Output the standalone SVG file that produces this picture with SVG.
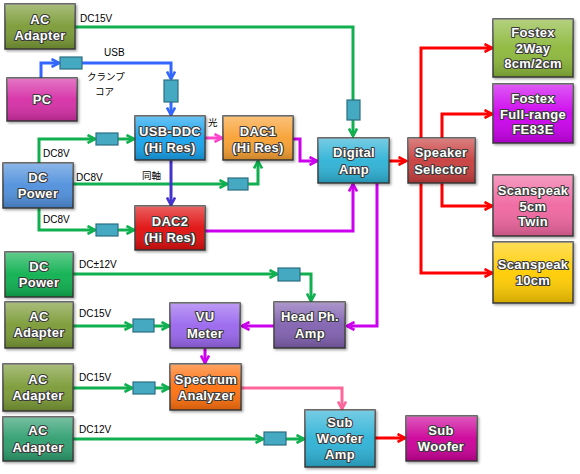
<svg xmlns="http://www.w3.org/2000/svg" width="580" height="474" viewBox="0 0 580 474">
<defs>
<linearGradient id="gloss" x1="0" y1="0" x2="0" y2="1">
<stop offset="0" stop-color="#ffffff" stop-opacity="0.35"/>
<stop offset="0.5" stop-color="#ffffff" stop-opacity="0.05"/>
<stop offset="1" stop-color="#000000" stop-opacity="0.18"/>
</linearGradient>
<filter id="sh" x="-10%" y="-10%" width="130%" height="130%">
<feDropShadow dx="1.5" dy="1.5" stdDeviation="1" flood-color="#000" flood-opacity="0.35"/>
</filter>
<marker id="aG" viewBox="0 0 10 10" refX="8.5" refY="5" markerWidth="10" markerHeight="10" markerUnits="userSpaceOnUse" orient="auto"><path d="M1,1 L8.5,5 L1,9" fill="none" stroke="#10b050" stroke-width="2.6"/></marker>
<marker id="aB" viewBox="0 0 10 10" refX="8.5" refY="5" markerWidth="10" markerHeight="10" markerUnits="userSpaceOnUse" orient="auto"><path d="M1,1 L8.5,5 L1,9" fill="none" stroke="#3366ff" stroke-width="2.6"/></marker>
<marker id="aI" viewBox="0 0 10 10" refX="8.5" refY="5" markerWidth="10" markerHeight="10" markerUnits="userSpaceOnUse" orient="auto"><path d="M1,1 L8.5,5 L1,9" fill="none" stroke="#4433cc" stroke-width="2.6"/></marker>
<marker id="aM" viewBox="0 0 10 10" refX="8.5" refY="5" markerWidth="10" markerHeight="10" markerUnits="userSpaceOnUse" orient="auto"><path d="M1,1 L8.5,5 L1,9" fill="none" stroke="#cc00ee" stroke-width="2.6"/></marker>
<marker id="aP" viewBox="0 0 10 10" refX="8.5" refY="5" markerWidth="10" markerHeight="10" markerUnits="userSpaceOnUse" orient="auto"><path d="M1,1 L8.5,5 L1,9" fill="none" stroke="#ff44cc" stroke-width="2.6"/></marker>
<marker id="aK" viewBox="0 0 10 10" refX="8.5" refY="5" markerWidth="10" markerHeight="10" markerUnits="userSpaceOnUse" orient="auto"><path d="M1,1 L8.5,5 L1,9" fill="none" stroke="#ff6699" stroke-width="2.6"/></marker>
<marker id="aR" viewBox="0 0 10 10" refX="8.5" refY="5" markerWidth="10" markerHeight="10" markerUnits="userSpaceOnUse" orient="auto"><path d="M1,1 L8.5,5 L1,9" fill="none" stroke="#ff0000" stroke-width="2.6"/></marker>
</defs>
<style>
.box{stroke:#3c3c3c;stroke-width:1.5;filter:url(#sh)}
.gl{fill:url(#gloss);stroke:none}
.t{font-family:"Liberation Sans",Arial,sans-serif;font-size:13px;font-weight:bold;fill:#ffffff;stroke:#3a3a3a;stroke-width:2.2;stroke-linejoin:round;paint-order:stroke fill;text-anchor:middle;letter-spacing:0.3px}
.lb{font-family:"Liberation Sans","Noto Sans CJK JP",sans-serif;font-size:10px;fill:#000000}
.jp{font-family:"Noto Sans CJK JP",sans-serif;font-size:9.5px;fill:#000000}
.c{fill:none;stroke-width:3;stroke-linejoin:miter}
.g{stroke:#10b050}
.b{stroke:#3366ff}
.i{stroke:#4433cc}
.m{stroke:#cc00ee}
.p{stroke:#ff44cc}
.k{stroke:#ff6699}
.r{stroke:#ff0000}
.cab{fill:#45a9c2;stroke:#2a6f80;stroke-width:1.2}
</style>
<rect width="580" height="474" fill="#ffffff"/>

<g id="connectors">
<path class="c g" d="M75,27 H353 V100"/>
<path class="c g" d="M353,120 V136" marker-end="url(#aG)"/>
<path class="c b" d="M41,78 V63 H59" marker-end="url(#aB)"/>
<path class="c b" d="M82,63 H171 V79" marker-end="url(#aB)"/>
<path class="c b" d="M171,102 V115" marker-end="url(#aB)"/>
<path class="c g" d="M39,163 V139 H95" marker-end="url(#aG)"/>
<path class="c g" d="M118,139 H134" marker-end="url(#aG)"/>
<path class="c g" d="M73,184 H227" marker-end="url(#aG)"/>
<path class="c g" d="M248,184 H258 V161" marker-end="url(#aG)"/>
<path class="c g" d="M39,208 V230 H95" marker-end="url(#aG)"/>
<path class="c g" d="M118,230 H134" marker-end="url(#aG)"/>
<path class="c p" d="M205,138 H222" marker-end="url(#aP)"/>
<path class="c i" d="M171,160 V205" marker-end="url(#aI)"/>
<path class="c m" d="M293,139 H300 V161 H317" marker-end="url(#aM)"/>
<path class="c m" d="M205,231 H353 V184" marker-end="url(#aM)"/>
<path class="c r" d="M389,161 H406" marker-end="url(#aR)"/>
<path class="c m" d="M377,183 V326 H347" marker-end="url(#aM)"/>
<path class="c r" d="M421,138 V48 H492" marker-end="url(#aR)"/>
<path class="c r" d="M442,138 V114 H492" marker-end="url(#aR)"/>
<path class="c r" d="M442,183 V206 H492" marker-end="url(#aR)"/>
<path class="c r" d="M421,183 V273 H492" marker-end="url(#aR)"/>
<path class="c g" d="M73,274 H277" marker-end="url(#aG)"/>
<path class="c g" d="M300,274 H311 V301" marker-end="url(#aG)"/>
<path class="c g" d="M73,326 H132" marker-end="url(#aG)"/>
<path class="c g" d="M154,326 H169" marker-end="url(#aG)"/>
<path class="c m" d="M274,326 H242" marker-end="url(#aM)"/>
<path class="c m" d="M205,348 V363" marker-end="url(#aM)"/>
<path class="c g" d="M73,388 H132" marker-end="url(#aG)"/>
<path class="c g" d="M155,388 H169" marker-end="url(#aG)"/>
<path class="c k" d="M241,388 H342 V409" marker-end="url(#aK)"/>
<path class="c g" d="M73,439 H263" marker-end="url(#aG)"/>
<path class="c g" d="M286,439 H304" marker-end="url(#aG)"/>
<path class="c r" d="M375,438 H405" marker-end="url(#aR)"/>
</g>

<g id="cables">
<rect id="cab-usb1" class="cab" x="60" y="57" width="22" height="12"/>
<rect id="cab-usb2" class="cab" x="164" y="80" width="14" height="22"/>
<rect id="cab-amp" class="cab" x="347" y="100" width="13" height="20"/>
<rect id="cab-ddc" class="cab" x="96" y="133" width="22" height="12"/>
<rect id="cab-dac1" class="cab" x="228" y="178" width="20" height="12"/>
<rect id="cab-dac2" class="cab" x="96" y="224" width="22" height="12"/>
<rect id="cab-hp" class="cab" x="278" y="268" width="22" height="13"/>
<rect id="cab-vu" class="cab" x="133" y="319" width="21" height="13"/>
<rect id="cab-spec" class="cab" x="133" y="382" width="22" height="12"/>
<rect id="cab-sub" class="cab" x="264" y="432" width="22" height="13"/>
</g>

<g id="labels">
<text class="lb" x="80" y="22">DC15V</text>
<text class="lb" x="104" y="56">USB</text>
<text class="jp" x="87" y="80">クランプ</text>
<text class="jp" x="95" y="95">コア</text>
<text class="jp" x="208" y="126">光</text>
<text class="lb" x="43" y="157">DC8V</text>
<text class="lb" x="76" y="181">DC8V</text>
<text class="jp" x="142" y="179">同軸</text>
<text class="lb" x="43" y="223">DC8V</text>
<text class="lb" x="79" y="268">DC±12V</text>
<text class="lb" x="79" y="317">DC15V</text>
<text class="lb" x="79" y="381">DC15V</text>
<text class="lb" x="79" y="433">DC12V</text>
</g>

<g id="n-ac1"><rect class="box" x="5" y="4" width="70" height="45" fill="#7a9a36"/><rect class="gl" x="5" y="4" width="70" height="45"/><text class="t" x="40" y="24">AC</text><text class="t" x="40" y="40">Adapter</text></g>
<g id="n-pc"><rect class="box" x="7" y="78" width="70" height="43" fill="#d62fa6"/><rect class="gl" x="7" y="78" width="70" height="43"/><text class="t" x="42" y="104">PC</text></g>
<g id="n-usbddc"><rect class="box" x="135" y="116" width="70" height="44" fill="#18a2ec"/><rect class="gl" x="135" y="116" width="70" height="44"/><text class="t" x="170" y="136">USB-DDC</text><text class="t" x="170" y="152">(Hi Res)</text></g>
<g id="n-dac1"><rect class="box" x="223" y="116" width="70" height="44" fill="#f8a030"/><rect class="gl" x="223" y="116" width="70" height="44"/><text class="t" x="258" y="136">DAC1</text><text class="t" x="258" y="152">(Hi Res)</text></g>
<g id="n-dcpower1"><rect class="box" x="3" y="163" width="70" height="45" fill="#4f8fdc"/><rect class="gl" x="3" y="163" width="70" height="45"/><text class="t" x="38" y="182">DC</text><text class="t" x="38" y="198">Power</text></g>
<g id="n-dac2"><rect class="box" x="135" y="206" width="70" height="44" fill="#e00808"/><rect class="gl" x="135" y="206" width="70" height="44"/><text class="t" x="170" y="226">DAC2</text><text class="t" x="170" y="242">(Hi Res)</text></g>
<g id="n-digamp"><rect class="box" x="318" y="138" width="71" height="45" fill="#2eb2d6"/><rect class="gl" x="318" y="138" width="71" height="45"/><text class="t" x="354" y="157">Digital</text><text class="t" x="354" y="174">Amp</text></g>
<g id="n-selector"><rect class="box" x="408" y="138" width="67" height="45" fill="#c83c3c"/><rect class="gl" x="408" y="138" width="67" height="45"/><text class="t" x="441" y="157">Speaker</text><text class="t" x="441" y="174">Selector</text></g>
<g id="n-fostex2way"><rect class="box" x="493" y="19" width="80" height="58" fill="#8cb83a"/><rect class="gl" x="493" y="19" width="80" height="58"/><text class="t" x="533" y="37">Fostex</text><text class="t" x="533" y="53">2Way</text><text class="t" x="533" y="68">8cm/2cm</text></g>
<g id="n-fostexfr"><rect class="box" x="493" y="84" width="80" height="59" fill="#cc00ee"/><rect class="gl" x="493" y="84" width="80" height="59"/><text class="t" x="533" y="103">Fostex</text><text class="t" x="533" y="119">Full-range</text><text class="t" x="533" y="134">FE83E</text></g>
<g id="n-scan5"><rect class="box" x="493" y="175" width="80" height="61" fill="#f066a0"/><rect class="gl" x="493" y="175" width="80" height="61"/><text class="t" x="533" y="195">Scanspeak</text><text class="t" x="533" y="211">5cm</text><text class="t" x="533" y="226">Twin</text></g>
<g id="n-scan10"><rect class="box" x="493" y="242" width="80" height="61" fill="#ffcc00"/><rect class="gl" x="493" y="242" width="80" height="61"/><text class="t" x="533" y="269">Scanspeak</text><text class="t" x="533" y="285">10cm</text></g>
<g id="n-dcpower2"><rect class="box" x="5" y="252" width="68" height="45" fill="#10b050"/><rect class="gl" x="5" y="252" width="68" height="45"/><text class="t" x="39" y="271">DC</text><text class="t" x="39" y="287">Power</text></g>
<g id="n-ac2"><rect class="box" x="5" y="302" width="68" height="46" fill="#7a9a36"/><rect class="gl" x="5" y="302" width="68" height="46"/><text class="t" x="39" y="321">AC</text><text class="t" x="39" y="337">Adapter</text></g>
<g id="n-vu"><rect class="box" x="170" y="303" width="70" height="45" fill="#9966ee"/><rect class="gl" x="170" y="303" width="70" height="45"/><text class="t" x="205" y="321">VU</text><text class="t" x="205" y="338">Meter</text></g>
<g id="n-hpamp"><rect class="box" x="274" y="302" width="71" height="46" fill="#8060b0"/><rect class="gl" x="274" y="302" width="71" height="46"/><text class="t" x="310" y="321">Head Ph.</text><text class="t" x="310" y="338">Amp</text></g>
<g id="n-ac3"><rect class="box" x="3" y="364" width="70" height="47" fill="#7a9a36"/><rect class="gl" x="3" y="364" width="70" height="47"/><text class="t" x="38" y="384">AC</text><text class="t" x="38" y="400">Adapter</text></g>
<g id="n-spectrum"><rect class="box" x="170" y="364" width="71" height="46" fill="#ff7010"/><rect class="gl" x="170" y="364" width="71" height="46"/><text class="t" x="206" y="384">Spectrum</text><text class="t" x="206" y="400">Analyzer</text></g>
<g id="n-ac4"><rect class="box" x="3" y="417" width="70" height="44" fill="#2e9e6e"/><rect class="gl" x="3" y="417" width="70" height="44"/><text class="t" x="38" y="435">AC</text><text class="t" x="38" y="452">Adapter</text></g>
<g id="n-subamp"><rect class="box" x="305" y="410" width="70" height="57" fill="#2eb2d6"/><rect class="gl" x="305" y="410" width="70" height="57"/><text class="t" x="340" y="427">Sub</text><text class="t" x="340" y="443">Woofer</text><text class="t" x="340" y="459">Amp</text></g>
<g id="n-subwoofer"><rect class="box" x="406" y="416" width="71" height="45" fill="#cc0099"/><rect class="gl" x="406" y="416" width="71" height="45"/><text class="t" x="441" y="435">Sub</text><text class="t" x="441" y="451">Woofer</text></g>
</svg>
